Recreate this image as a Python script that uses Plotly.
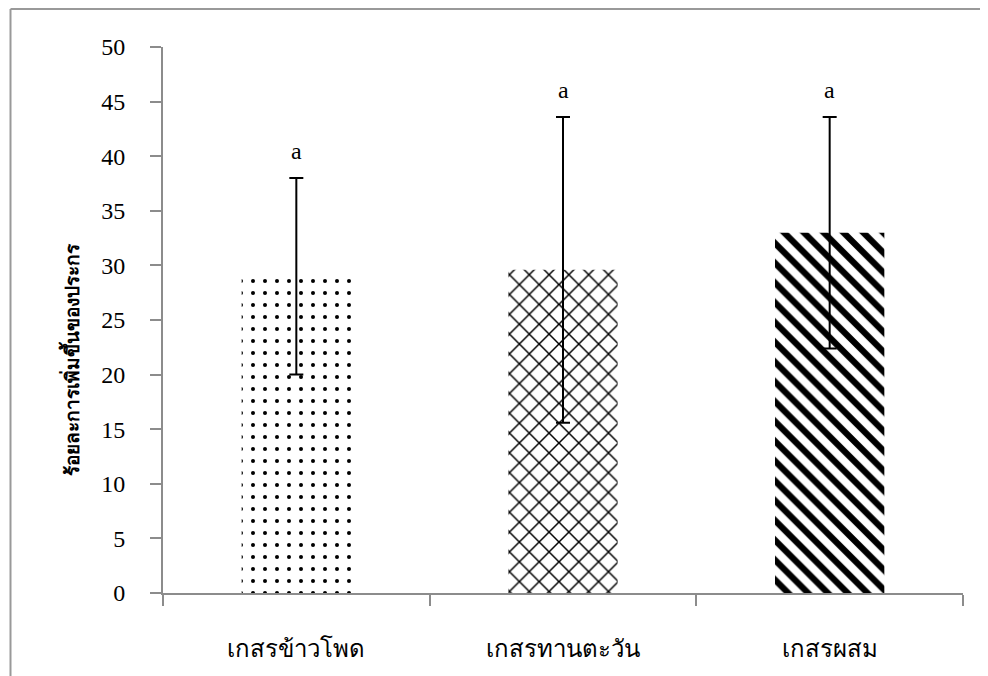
import plotly.graph_objects as go

categories = ["เกสรข้าวโพด", "เกสรทานตะวัน", "เกสรผสม"]
values = [29.0, 29.6, 33.0]
errors = [9.0, 14.0, 10.6]
letters = ["a", "a", "a"]
y_ticks = [0, 5, 10, 15, 20, 25, 30, 35, 40, 45, 50]
y_title = "ร้อยละการเพิ่มขึ้นของประกร"

fig = go.Figure()
fig.add_trace(go.Bar(
    x=categories, y=values,
    width=0.41,
    opacity=1,
    marker=dict(
        color="white", line=dict(width=0),
        pattern=dict(shape=[".", "x", "\\"], size=[12, 14, 14],
                     solidity=[0.09, 0.2, 0.45],
                     fgcolor="black", bgcolor="white", fgopacity=1, fillmode="overlay"),
    ),
    error_y=dict(type="data", array=errors, visible=True,
                 color="black", thickness=2, width=7),
    showlegend=False,
))

for i, c in enumerate(categories):
    fig.add_annotation(x=c, y=values[i] + errors[i], text=letters[i],
                       showarrow=False, yanchor="bottom", yshift=12,
                       font=dict(family="Liberation Serif", size=24, color="black"))

W, H = 988, 676
L, T = 155, 39
pw, ph = 800, 546
R, B = W - L - pw, H - T - ph

fig.add_annotation(xref="paper", yref="paper", x=(62 - L) / pw, y=(T + ph - 352) / ph,
                   text="<b>" + y_title + "</b>", textangle=-90, showarrow=False,
                   xanchor="center", yanchor="middle",
                   font=dict(family="Liberation Serif", size=19, color="black"))

bx0 = (2.5 - L) / pw
by1 = (ph + T - 1) / ph
fig.add_shape(type="line", xref="paper", yref="paper",
              x0=bx0, x1=bx0, y0=-(B + 40) / ph, y1=by1,
              line=dict(color="#999999", width=2), layer="below")
fig.add_shape(type="line", xref="paper", yref="paper",
              x0=bx0, x1=(W + 40 - L) / pw, y0=by1, y1=by1,
              line=dict(color="#999999", width=2), layer="below")

fig.update_layout(
    width=W, height=H,
    margin=dict(l=L, r=R, t=T, b=B),
    plot_bgcolor="white", paper_bgcolor="white",
    font=dict(family="Liberation Serif", color="black"),
    xaxis=dict(
        type="category", showline=True, linecolor="#8c8c8c", linewidth=2,
        ticks="outside", tickson="boundaries", ticklen=11, tickcolor="#8c8c8c", tickwidth=2,
        tickfont=dict(family="Liberation Serif", size=24, color="black"),
        ticklabelstandoff=33,
        showgrid=False, zeroline=False,
    ),
    yaxis=dict(
        range=[0, 50], tickvals=y_ticks, showline=True, linecolor="#8c8c8c", linewidth=2,
        ticks="outside", ticklen=11, tickcolor="#8c8c8c", tickwidth=2,
        tickfont=dict(family="Liberation Serif", size=24, color="black"),
        ticklabelstandoff=20,
        showgrid=False, zeroline=False,
    ),
)

fig.write_html("out.html")
